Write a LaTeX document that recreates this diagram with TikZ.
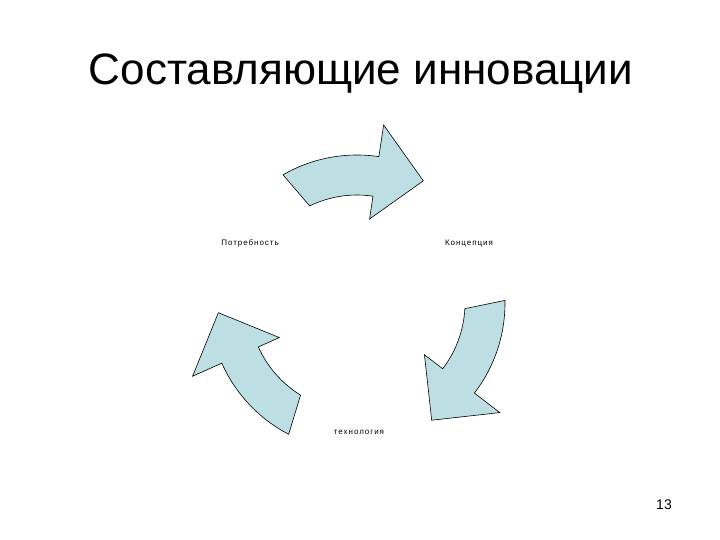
\documentclass[tikz,border=0pt]{standalone}
\usepackage{fontspec}
\setmainfont{Liberation Sans}
\newfontfamily\stagefont[LetterSpace=12]{Liberation Sans}
\usetikzlibrary{positioning}
\definecolor{arrowfill}{RGB}{189,223,227}

\begin{document}
\begin{tikzpicture}[x=1pt, y=1pt,
    titleText/.style={font=\fontsize{44}{50}\selectfont, anchor=base, inner sep=0pt},
    stageLabel/.style={font=\stagefont\fontsize{8}{9}\selectfont, anchor=base, inner sep=0pt},
    pageNum/.style={font=\fontsize{14}{16}\selectfont, anchor=base, inner sep=0pt},
    cycleArrow/.style={draw=black, fill=arrowfill, line width=0.6pt, line join=miter, shift={(hub)}}
]
    \useasboundingbox (0,0) rectangle (720,540);
    \coordinate (hub) at (357,237);

    \node[titleText] (title) at (361,455) {Составляющие инновации};

    \node[stageLabel] (concept) at (469,294) {Концепция};
    \node[stageLabel] (tech) at (359,105) {технология};
    \node[stageLabel] (need) at (250,294) {Потребность};

    % three curved block arrows round the hub
    \draw[cycleArrow] (120:148) arc[start angle=120, end angle=81.5, radius=148]
        -- (81.5:180) -- (61.5:139) -- (81.5:85) -- (81.5:108)
        arc[start angle=81.5, end angle=116, radius=108] -- cycle;
    \draw[cycleArrow, rotate=-119] (120:148) arc[start angle=120, end angle=81.5, radius=148]
        -- (81.5:180) -- (61.5:139) -- (81.5:85) -- (81.5:108)
        arc[start angle=81.5, end angle=116, radius=108] -- cycle;
    \draw[cycleArrow, rotate=122.5] (120:148) arc[start angle=120, end angle=81.5, radius=148]
        -- (81.5:180) -- (61.5:139) -- (81.5:85) -- (81.5:108)
        arc[start angle=81.5, end angle=116, radius=108] -- cycle;

    \node[pageNum] (page) at (664,30) {13};
\end{tikzpicture}
\end{document}
